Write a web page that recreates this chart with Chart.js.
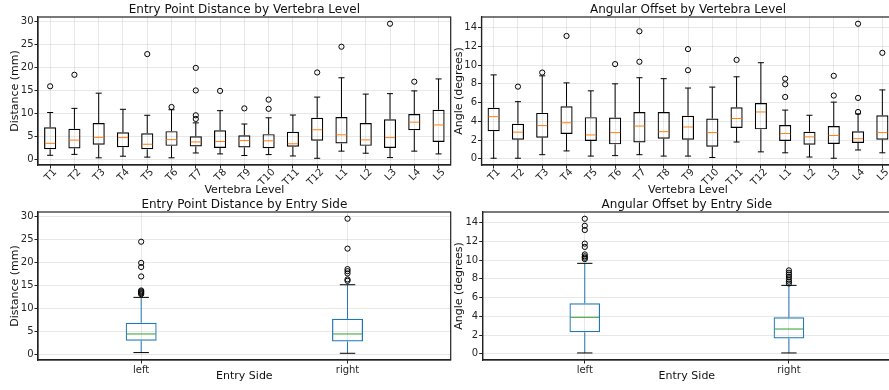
<!DOCTYPE html>
<html>
<head>
<meta charset="utf-8">
<script src="https://cdn.jsdelivr.net/npm/chart.js@4.4.1/dist/chart.umd.min.js"></script>
<style>
  body { margin: 0; width: 889px; height: 390px; overflow: hidden; position: relative; background: #fff; }
  .panel { position: absolute; width: 470px; height: 195px; }
</style>
</head>
<body>
<div class="panel" style="left:0;top:0"><canvas id="distLevel" width="470" height="195"></canvas></div>
<div class="panel" style="left:445px;top:0"><canvas id="angleLevel" width="470" height="195"></canvas></div>
<div class="panel" style="left:0;top:195px"><canvas id="distSide" width="470" height="195"></canvas></div>
<div class="panel" style="left:445px;top:195px"><canvas id="angleSide" width="470" height="195"></canvas></div>
<script>
// categories
const levels = ['T1', 'T2', 'T3', 'T4', 'T5', 'T6', 'T7', 'T8', 'T9', 'T10', 'T11', 'T12', 'L1', 'L2', 'L3', 'L4', 'L5'];
const sides = ['left', 'right'];

// entry point distance (mm) by vertebra level
const distLow  = [1.0, 1.2, 0.45, 0.8, 0.6, 0.45, 1.5, 1.3, 0.95, 1.15, 0.85, 0.35, 1.9, 1.45, 0.5, 1.9, 1.3];
const distQ1   = [2.3, 2.5, 3.3, 2.75, 2.3, 3.05, 2.9, 2.6, 2.7, 2.55, 2.85, 4.15, 3.55, 3.05, 2.6, 6.45, 3.9];
const distMed  = [3.6, 4.3, 4.9, 4.85, 3.4, 4.4, 3.9, 4.0, 4.2, 4.15, 3.5, 6.55, 5.45, 4.35, 4.85, 8.2, 7.6];
const distQ3   = [7.1, 6.75, 8.0, 6.0, 5.8, 6.25, 5.15, 6.45, 5.35, 5.6, 6.1, 9.15, 9.3, 8.0, 8.85, 9.95, 10.9];
const distHigh = [10.3, 11.2, 14.5, 11.0, 9.7, 10.9, 8.05, 10.7, 7.8, 9.15, 9.75, 13.65, 17.85, 14.3, 14.4, 15.0, 17.6];
const distFliers = [
    ['T1', 16.0], ['T2', 18.5], ['T5', 23.0], ['T6', 11.5],
    ['T7', 20.0], ['T7', 15.1], ['T7', 9.7], ['T7', 8.9],
    ['T8', 15.0], ['T9', 11.2], ['T10', 13.1], ['T10', 11.1],
    ['T12', 19.0], ['L1', 24.6], ['L3', 29.6], ['L4', 17.0]
];

// angular offset (degrees) by vertebra level
const angLow  = [0.07, 0.07, 0.45, 0.85, 0.3, 0.35, 0.45, 0.3, 0.3, 0.15, 1.8, 0.75, 0.65, 0.2, 0.07, 0.95, 0.65];
const angQ1   = [2.95, 2.05, 2.25, 2.65, 1.9, 1.55, 1.75, 2.15, 2.05, 1.3, 3.3, 3.15, 1.9, 1.5, 1.6, 1.7, 2.05];
const angMed  = [4.5, 2.85, 3.55, 3.85, 2.55, 2.8, 3.5, 2.9, 3.4, 2.8, 4.3, 5.0, 2.7, 2.35, 2.5, 2.15, 2.8];
const angQ3   = [5.45, 3.75, 4.9, 5.6, 4.45, 4.4, 5.0, 5.0, 4.6, 4.3, 5.5, 5.95, 3.6, 2.9, 3.5, 2.95, 4.65];
const angHigh = [8.95, 6.1, 8.85, 8.1, 7.25, 8.0, 8.65, 8.55, 7.55, 7.65, 8.75, 10.25, 5.2, 4.65, 6.05, 4.8, 7.35];
const angFliers = [
    ['T2', 7.7], ['T3', 9.2], ['T4', 13.1], ['T6', 10.1], ['T7', 13.6], ['T7', 10.35],
    ['T9', 11.7], ['T9', 9.45], ['T11', 10.55], ['L1', 8.55], ['L1', 7.95], ['L1', 6.6],
    ['L3', 8.85], ['L3', 6.75], ['L4', 14.4], ['L4', 6.5], ['L4', 5.0], ['L5', 11.3]
];

// by entry side
const sideDistLow  = [0.5, 0.35];
const sideDistQ1   = [3.1, 2.9];
const sideDistMed  = [4.55, 4.55];
const sideDistQ3   = [7.0, 7.85];
const sideDistHigh = [12.5, 15.25];
const sideDistFliers = [
    ['left', 24.6], ['left', 20.0], ['left', 19.1], ['left', 17.05], ['left', 14.0],
    ['left', 13.8], ['left', 13.6], ['left', 13.4], ['left', 13.2],
    ['right', 29.6], ['right', 23.1], ['right', 18.65], ['right', 18.2], ['right', 17.7],
    ['right', 16.4], ['right', 16.1]
];
const sideAngLow  = [0.1, 0.1];
const sideAngQ1   = [2.3, 1.65];
const sideAngMed  = [3.9, 2.65];
const sideAngQ3   = [5.4, 3.9];
const sideAngHigh = [9.65, 7.3];
const sideAngFliers = [
    ['left', 14.4], ['left', 13.65], ['left', 13.2], ['left', 11.75], ['left', 11.4],
    ['left', 10.6], ['left', 10.4], ['left', 10.25], ['left', 10.1],
    ['right', 8.9], ['right', 8.65], ['right', 8.45], ['right', 8.2], ['right', 7.9],
    ['right', 7.7], ['right', 7.5]
];

const distTicks = [0, 5, 10, 15, 20, 25, 30];
const angTicks = [0, 2, 4, 6, 8, 10, 12, 14];

Chart.defaults.font.family = "'DejaVu Sans', sans-serif";
Chart.defaults.color = '#262626';

// whiskers, caps and medians on top of the floating-bar boxes
const boxPlugin = {
    id: 'boxWhiskers',
    afterDatasetsDraw(chart) {
        const ds = chart.data.datasets[0];
        const meta = chart.getDatasetMeta(0);
        const y = chart.scales.y;
        const ctx = chart.ctx;
        function seg(x1, y1, x2, y2, color) {
            ctx.beginPath();
            ctx.moveTo(x1, y1);
            ctx.lineTo(x2, y2);
            ctx.strokeStyle = color;
            ctx.stroke();
        }
        ctx.save();
        ctx.lineWidth = 1;
        meta.data.forEach(function (bar, i) {
            const x = bar.x;
            const half = bar.width / 2;
            const yq1 = y.getPixelForValue(ds.data[i][0]);
            const yq3 = y.getPixelForValue(ds.data[i][1]);
            const ylo = y.getPixelForValue(ds.low[i]);
            const yhi = y.getPixelForValue(ds.high[i]);
            const ym = y.getPixelForValue(ds.med[i]);
            seg(x, yq1, x, ylo, ds.whiskerColor);
            seg(x, yq3, x, yhi, ds.whiskerColor);
            seg(x - half / 2, ylo, x + half / 2, ylo, '#000');
            seg(x - half / 2, yhi, x + half / 2, yhi, '#000');
            seg(x - half + 1, ym, x + half - 1, ym, ds.medianColor);
        });
        ctx.restore();
    }
};

const framePlugin = {
    id: 'frame',
    afterDraw(chart) {
        const a = chart.chartArea;
        const ctx = chart.ctx;
        ctx.save();
        ctx.strokeStyle = '#222';
        ctx.lineWidth = 1.2;
        ctx.strokeRect(a.left, a.top, a.right - a.left, a.bottom - a.top);
        ctx.restore();
    }
};

function makeBoxChart(id, o) {
    const ctx = document.getElementById(id).getContext('2d');
    const boxes = o.q1.map(function (v, i) { return [v, o.q3[i]]; });
    return new Chart(ctx, {
        type: 'bar',
        data: {
            labels: o.labels,
            datasets: [
                {
                    data: boxes,
                    low: o.low,
                    high: o.high,
                    med: o.med,
                    whiskerColor: o.boxColor,
                    medianColor: o.medianColor,
                    backgroundColor: 'rgba(0,0,0,0)',
                    borderColor: o.boxColor,
                    borderWidth: 1.2,
                    borderSkipped: false,
                    categoryPercentage: 1,
                    barPercentage: o.boxWidth
                },
                {
                    type: 'line',
                    data: o.fliers.map(function (f) { return { x: f[0], y: f[1] }; }),
                    showLine: false,
                    pointStyle: 'circle',
                    pointRadius: 2.6,
                    pointBorderWidth: 1,
                    pointBorderColor: '#000',
                    pointBackgroundColor: 'rgba(0,0,0,0)'
                }
            ]
        },
        options: {
            responsive: false,
            animation: false,
            events: [],
            layout: {
                autoPadding: false,
                padding: { left: 0, right: o.padRight, top: 0, bottom: 0 }
            },
            plugins: {
                legend: { display: false },
                tooltip: { enabled: false },
                title: {
                    display: true,
                    fullSize: false,
                    text: o.title,
                    color: '#111',
                    font: { size: 12, weight: 'normal' },
                    padding: { top: 2.6, bottom: 0 }
                }
            },
            scales: {
                x: {
                    offset: true,
                    afterFit: function (scale) { scale.height = 30; },
                    grid: { offset: false, color: 'rgba(0,0,0,0.09)', tickColor: '#222', tickLength: 3.5 },
                    border: { display: true, color: '#222', width: 1.2 },
                    ticks: {
                        autoSkip: false,
                        maxRotation: o.rotate,
                        minRotation: o.rotate,
                        labelOffset: o.rotate ? 5 : 0,
                        padding: o.rotate ? -2 : 1,
                        font: { size: 10 }
                    },
                    title: {
                        display: true,
                        text: o.xTitle,
                        color: '#111',
                        font: { size: 11 },
                        padding: { top: 0, bottom: o.xTitlePad }
                    }
                },
                y: {
                    min: o.yMin,
                    max: o.yMax,
                    afterFit: function (scale) { scale.width = o.yWidth; },
                    afterBuildTicks: function (scale) {
                        scale.ticks = o.yTicks.map(function (v) { return { value: v }; });
                    },
                    grid: { color: 'rgba(0,0,0,0.09)', tickColor: '#222', tickLength: 3.5 },
                    border: { display: true, color: '#222', width: 1.2 },
                    ticks: { padding: 1, font: { size: 10 } },
                    title: {
                        display: true,
                        text: o.yTitle,
                        color: '#111',
                        font: { size: 11 },
                        padding: { top: o.yTitlePad, bottom: 0 }
                    }
                }
            }
        },
        plugins: [boxPlugin, framePlugin]
    });
}

makeBoxChart('distLevel', {
    labels: levels, low: distLow, q1: distQ1, med: distMed, q3: distQ3, high: distHigh, fliers: distFliers,
    title: 'Entry Point Distance by Vertebra Level', xTitle: 'Vertebra Level', yTitle: 'Distance (mm)',
    yMin: -1.11, yMax: 31.06, yTicks: distTicks, yWidth: 38, yTitlePad: 8.4, padRight: 19.3,
    rotate: 45, xTitlePad: -1.5, boxWidth: 0.5, boxColor: '#000', medianColor: '#ff7f0e'
});

makeBoxChart('angleLevel', {
    labels: levels, low: angLow, q1: angQ1, med: angMed, q3: angQ3, high: angHigh, fliers: angFliers,
    title: 'Angular Offset by Vertebra Level', xTitle: 'Vertebra Level', yTitle: 'Angle (degrees)',
    yMin: -0.65, yMax: 15.12, yTicks: angTicks, yWidth: 36.5, yTitlePad: 7.4, padRight: 20.5,
    rotate: 45, xTitlePad: -1.5, boxWidth: 0.5, boxColor: '#000', medianColor: '#ff7f0e'
});

makeBoxChart('distSide', {
    labels: sides, low: sideDistLow, q1: sideDistQ1, med: sideDistMed, q3: sideDistQ3, high: sideDistHigh, fliers: sideDistFliers,
    title: 'Entry Point Distance by Entry Side', xTitle: 'Entry Side', yTitle: 'Distance (mm)',
    yMin: -1.11, yMax: 31.06, yTicks: distTicks, yWidth: 38, yTitlePad: 8.4, padRight: 19.3,
    rotate: 0, xTitlePad: 7, boxWidth: 0.15, boxColor: '#1f77b4', medianColor: '#2ca02c'
});

makeBoxChart('angleSide', {
    labels: sides, low: sideAngLow, q1: sideAngQ1, med: sideAngMed, q3: sideAngQ3, high: sideAngHigh, fliers: sideAngFliers,
    title: 'Angular Offset by Entry Side', xTitle: 'Entry Side', yTitle: 'Angle (degrees)',
    yMin: -0.65, yMax: 15.12, yTicks: angTicks, yWidth: 37.7, yTitlePad: 7.4, padRight: 24,
    rotate: 0, xTitlePad: 7, boxWidth: 0.15, boxColor: '#1f77b4', medianColor: '#2ca02c'
});
</script>
</body>
</html>
